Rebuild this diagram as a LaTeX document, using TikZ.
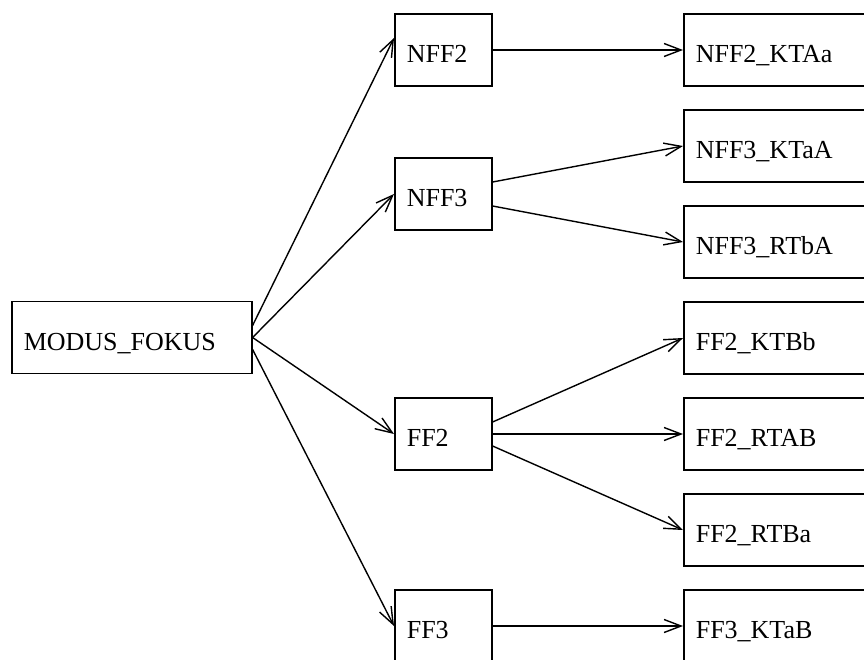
\documentclass[tikz,border=0pt]{standalone}
\usepackage{fontspec}
\setmainfont{Liberation Serif}
\usetikzlibrary{arrows.meta}

\begin{document}
\begin{tikzpicture}[x=1pt,y=-1pt,
  box/.style={rectangle,draw,line width=1.6pt,anchor=west,minimum height=72pt,
              inner xsep=12pt,align=left,text height=25pt,text depth=0pt,
              font=\fontsize{26}{30}\selectfont},
  modbox/.style={box,text width=216pt},
  midbox/.style={box,text width=73pt},
  leafbox/.style={box,text width=200pt},
  arrow/.style={-{Straight Barb[length=17pt,width=13pt,line width=1.4pt]},line width=1.4pt}
]
\useasboundingbox (0,0) rectangle (864,659);

\node[modbox]  (modus)    at (11,337.5) {MODUS\_FOKUS};

\node[midbox]  (nff2)     at (394,50)  {NFF2};
\node[midbox]  (nff3)     at (394,194) {NFF3};
\node[midbox]  (ff2)      at (394,434) {FF2};
\node[midbox]  (ff3)      at (394,626) {FF3};

\node[leafbox] (nff2ktaa) at (683,50)  {NFF2\_KTAa};
\node[leafbox] (nff3ktaa) at (683,146) {NFF3\_KTaA};
\node[leafbox] (nff3rtba) at (683,242) {NFF3\_RTbA};
\node[leafbox] (ff2ktbb)  at (683,338) {FF2\_KTBb};
\node[leafbox] (ff2rtab)  at (683,434) {FF2\_RTAB};
\node[leafbox] (ff2rtba)  at (683,530) {FF2\_RTBa};
\node[leafbox] (ff3ktab)  at (683,626) {FF3\_KTaB};

% first level
\draw[arrow] ([yshift=12pt]modus.east) -- ([yshift=12pt]nff2.west);
\draw[arrow] (modus.east) -- (nff3.west);
\draw[arrow] (modus.east) -- (ff2.west);
\draw[arrow] ([yshift=-12pt]modus.east) -- (ff3.west);

% second level
\draw[arrow] (nff2.east) -- (nff2ktaa.west);
\draw[arrow] ([yshift=12pt]nff3.east) -- (nff3ktaa.west);
\draw[arrow] ([yshift=-12pt]nff3.east) -- (nff3rtba.west);
\draw[arrow] ([yshift=12pt]ff2.east) -- (ff2ktbb.west);
\draw[arrow] (ff2.east) -- (ff2rtab.west);
\draw[arrow] ([yshift=-12pt]ff2.east) -- (ff2rtba.west);
\draw[arrow] (ff3.east) -- (ff3ktab.west);
\end{tikzpicture}
\end{document}
